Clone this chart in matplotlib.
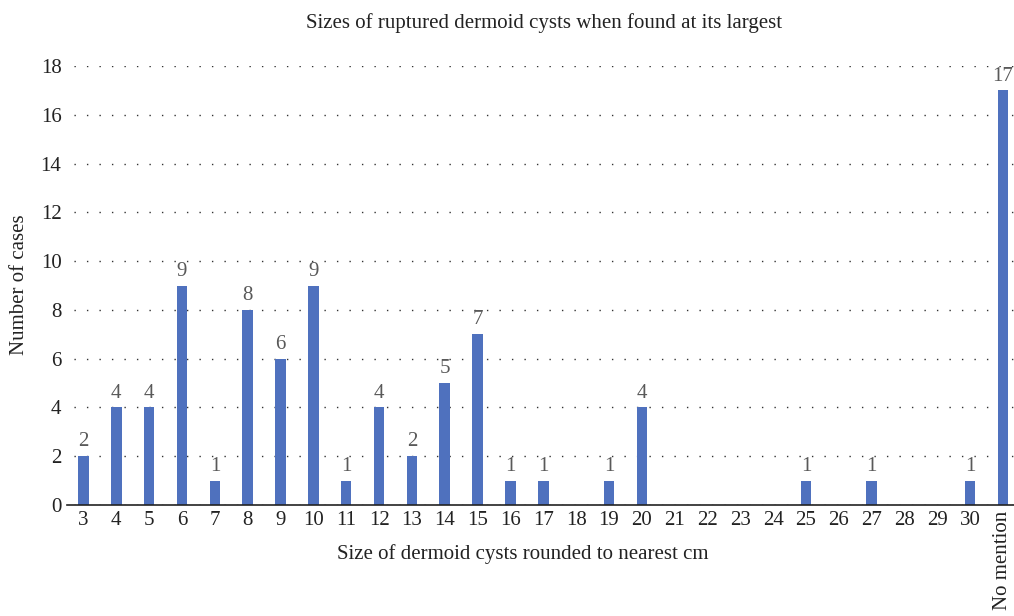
import matplotlib
matplotlib.use("Agg")
import matplotlib.pyplot as plt

categories = [str(i) for i in range(3, 31)] + ["No mention"]
counts = [2, 4, 4, 9, 1, 8, 6, 9, 1, 4, 2, 5, 7, 1, 1, 0, 1, 4,
          0, 0, 0, 0, 1, 0, 1, 0, 0, 1, 17]
yticks = list(range(0, 19, 2))

title = "Sizes of ruptured dermoid cysts when found at its largest"
xlabel = "Size of dermoid cysts rounded to nearest cm"
ylabel = "Number of cases"

plt.rcParams['font.family'] = ['Liberation Serif', 'DejaVu Serif']

W, H = 1014, 616
fig = plt.figure(figsize=(W / 100, H / 100), dpi=100)
left, right, bottom, top = 67.1, 1019.4, 505, 66
ax = fig.add_axes([left / W, 1 - bottom / H, (right - left) / W, (bottom - top) / H])

x = list(range(len(categories)))
bar_color = "#4F71BE"
ax.bar(x, counts, width=0.32, color=bar_color, zorder=3)

for xi, v in zip(x, counts):
    if v > 0:
        ax.text(xi, v + 0.2, str(v), ha="center", va="bottom",
                fontsize=15, color="#595959")

ax.set_xlim(-0.5, len(categories) - 0.5)
ax.set_ylim(0, 18)
ax.set_yticks(yticks)
ax.set_xticks(x)
ax.set_xticklabels(categories, fontsize=15)
for lbl in ax.get_xticklabels():
    if lbl.get_text() == "No mention":
        lbl.set_rotation(90)
        lbl.set_va("top")
ax.tick_params(axis="both", length=0, labelsize=15, colors="#222222")
ax.tick_params(axis="x", pad=4)
ax.tick_params(axis="y", pad=4)

for s in ["left", "right", "top"]:
    ax.spines[s].set_visible(False)
ax.spines["bottom"].set_color("#222222")
ax.spines["bottom"].set_linewidth(1.2)
ax.spines["bottom"].set_zorder(4)

ax.yaxis.grid(True, color="#333333", linewidth=1.0, linestyle=(4, (1, 8)), zorder=0)
ax.set_axisbelow(True)

fig.text(544 / W, 1 - 23 / H, title, ha="center", va="center", fontsize=15, color="#222222")
fig.text(523 / W, 1 - 554 / H, xlabel, ha="center", va="center", fontsize=15, color="#222222")
fig.text(20 / W, 1 - 285 / H, ylabel, ha="center", va="center", rotation=90, fontsize=15, color="#222222")

fig.savefig("out.png", dpi=100)
